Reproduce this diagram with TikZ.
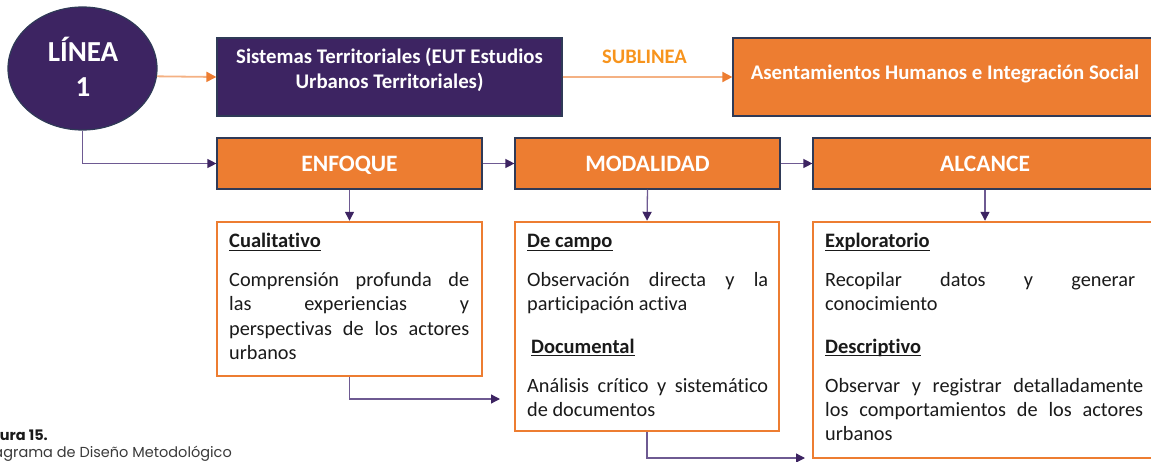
\documentclass[tikz,border=0pt]{standalone}
\usepackage{fontspec}
\setmainfont[Ligatures={NoCommon}]{Carlito}
\newfontfamily\capfont{Poppins}
\usetikzlibrary{arrows.meta,shapes.geometric}
\definecolor{purp}{HTML}{3D2462}
\definecolor{orng}{HTML}{ED7D31}
\definecolor{navy}{HTML}{2F3A57}
\definecolor{conn}{HTML}{6E5A92}
\definecolor{lorng}{HTML}{F4B183}
\definecolor{subl}{HTML}{F7941D}
\definecolor{txt}{HTML}{1A1A1A}
\definecolor{capgray}{HTML}{3A3A3A}
\newcommand\myjust[2]{\hbox to #1pt{#2}}
\begin{document}
\begin{tikzpicture}[x=1pt,y=-1pt,
  hdrbox/.style={draw=navy, line width=1.2pt, fill=orng, rectangle, inner sep=0pt},
  purpbox/.style={draw=navy, line width=1.2pt, fill=purp, rectangle, inner sep=0pt},
  contbox/.style={draw=orng, line width=2.4pt, fill=white, rectangle, inner sep=0pt},
  hdrtext/.style={anchor=base, inner sep=0pt, text=white, font=\fontsize{23.5}{28}\selectfont\bfseries},
  toptext/.style={anchor=base, inner sep=0pt, text=white, font=\fontsize{20.8}{25}\selectfont\bfseries},
  bodytext/.style={anchor=base west, inner sep=0pt, text=txt, font=\fontsize{20.3}{24}\selectfont},
  headtext/.style={anchor=base west, inner sep=0pt, text=txt, font=\fontsize{20.5}{24}\selectfont\bfseries},
  uline/.style={draw=txt, line width=1.2pt},
  parrow/.style={draw=conn, line width=1.3pt, -{Triangle[length=9pt,width=9pt,color=purp]}},
  oarrow/.style={draw=lorng, line width=1.8pt, -{Triangle[length=10pt,width=10pt,color=orng]}},
]
\useasboundingbox (0,0) rectangle (1151,462);
\clip (0,0) rectangle (1151,462);

% top row
\node[ellipse, draw=navy, line width=1.2pt, fill=purp, minimum width=149pt, minimum height=123pt, inner sep=0pt] (linea) at (82.5,68.5) {};
\node[anchor=base, inner sep=0pt, text=white, font=\fontsize{29}{35}\selectfont\bfseries] (lineat) at (83,62) {LÍNEA};
\node[anchor=base, inner sep=0pt, text=white, font=\fontsize{29}{35}\selectfont\bfseries] (uno) at (83,97) {1};

\node[purpbox, minimum width=345pt, minimum height=78pt] (sis) at (389.5,77) {};
\node[toptext] (sis1) at (389.5,64) {Sistemas Territoriales (EUT Estudios};
\node[toptext] (sis2) at (389.5,88.5) {Urbanos Territoriales)};

\node[hdrbox, minimum width=424pt, minimum height=78pt] (asent) at (945,77) {};
\node[toptext] (asentt) at (945,80) {Asentamientos Humanos e Integración Social};

\node[anchor=base, inner sep=0pt, text=subl, font=\fontsize{20.6}{25}\selectfont\bfseries] (sub) at (644.5,64) {SUBLINEA};

\draw[oarrow] (linea.-6.6) -- (sis.west);
\draw[oarrow] (sis.east) -- (asent.west);

% header row
\node[hdrbox, minimum width=265pt, minimum height=51pt] (enf) at (349.5,163.5) {};
\node[hdrtext] (enft) at (349.5,172) {ENFOQUE};
\node[hdrbox, minimum width=265pt, minimum height=51pt] (mod) at (647.5,163.5) {};
\node[hdrtext] (modt) at (647.5,172) {MODALIDAD};
\node[hdrbox, minimum width=344pt, minimum height=51pt] (alc) at (985,163.5) {};
\node[hdrtext] (alct) at (985,172) {ALCANCE};

\draw[parrow] (linea.south) |- (enf.west);
\draw[parrow] (enf.east) -- (mod.west);
\draw[parrow] (mod.east) -- (alc.west);

% content boxes
\node[contbox, minimum width=265pt, minimum height=154pt] (c1) at (349.5,299) {};
\node[contbox, minimum width=264pt, minimum height=209pt] (c2) at (647,326.5) {};
\node[contbox, minimum width=344pt, minimum height=236pt] (c3) at (985,340) {};

\draw[parrow] (enf.south) -- (c1.north);
\draw[parrow] (mod.south) -- (c2.north);
\draw[parrow] (alc.south) -- (c3.north);

\coordinate (e1) at (500,399);
\coordinate (e2) at (805,458);
\draw[parrow] (c1.south) |- (e1);
\draw[parrow] (c2.south) |- (e2);

% box 1 text
\node[headtext] (h1) at (229,248) {Cualitativo};
\draw[uline] ([yshift=-2.8pt]h1.base west) -- ([yshift=-2.8pt]h1.base east);
\node[bodytext] (b11) at (229,287) {\myjust{240}{Comprensión\hfill profunda\hfill de}};
\node[bodytext] (b12) at (229,311) {\myjust{240}{las\hfill experiencias\hfill y}};
\node[bodytext] (b13) at (229,335) {\myjust{240}{perspectivas\hfill de\hfill los\hfill actores}};
\node[bodytext] (b14) at (229,359) {urbanos};

% box 2 text
\node[headtext] (h21) at (527,248) {De campo};
\draw[uline] ([yshift=-2.8pt]h21.base west) -- ([yshift=-2.8pt]h21.base east);
\node[bodytext] (b21) at (527,287) {\myjust{241}{Observación\hfill directa\hfill y\hfill la}};
\node[bodytext] (b22) at (527,311) {participación activa};
\node[headtext] (h22) at (531,353) {Documental};
\draw[uline] ([yshift=-2.8pt]h22.base west) -- ([yshift=-2.8pt]h22.base east);
\node[bodytext] (b23) at (527,392) {\myjust{241}{Análisis\hfill crítico\hfill y\hfill sistemático}};
\node[bodytext] (b24) at (527,416) {de documentos};

% box 3 text
\node[headtext] (h31) at (825,248) {Exploratorio};
\draw[uline] ([yshift=-2.8pt]h31.base west) -- ([yshift=-2.8pt]h31.base east);
\node[bodytext] (b31) at (825,287) {\myjust{310}{Recopilar\hfill datos\hfill y\hfill generar}};
\node[bodytext] (b32) at (825,311) {conocimiento};
\node[headtext] (h32) at (825,353) {Descriptivo};
\draw[uline] ([yshift=-2.8pt]h32.base west) -- ([yshift=-2.8pt]h32.base east);
\node[bodytext] (b33) at (825,392) {\myjust{318}{Observar\hfill y\hfill registrar\hfill detalladamente}};
\node[bodytext] (b34) at (825,416) {\myjust{318}{los\hfill comportamientos\hfill de\hfill los\hfill actores}};
\node[bodytext] (b35) at (825,440) {urbanos};

% caption
\node[anchor=base east, inner sep=0pt, text=txt, font=\capfont\fontsize{14.5}{17}\selectfont\bfseries] (cap1) at (48,440) {Figura 15.};
\node[anchor=base east, inner sep=0pt, text=capgray, font=\capfont\fontsize{14.5}{17}\selectfont] (cap2) at (232,457) {Diagrama de Diseño Metodológico};
\end{tikzpicture}
\end{document}
